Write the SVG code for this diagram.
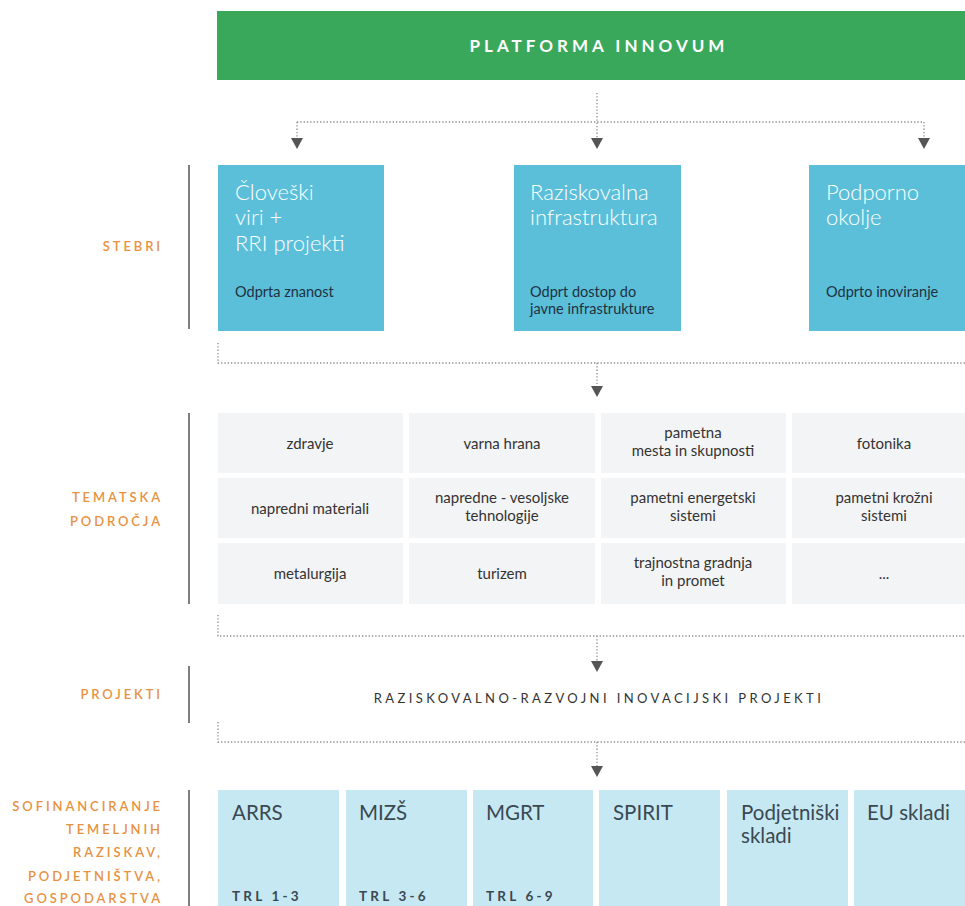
<svg xmlns="http://www.w3.org/2000/svg" width="965" height="906" viewBox="0 0 965 906">
<defs>
<style>
text{font-family:Lato,"Open Sans","Liberation Sans",sans-serif}
.lbl{fill:#e8913f;font-size:13px;letter-spacing:2.9px;text-anchor:end;font-weight:600}
.vline{stroke:#3a3a3a;stroke-width:1.3}
.dot{stroke:#8a8a8a;stroke-width:1.3;stroke-dasharray:1.3 2;fill:none}
.arr{fill:#555}
.pil{fill:#5bbfda}
.pt{fill:#fff;font-size:22px;font-weight:300}
.ps{fill:#1f3140;font-size:14.5px}
.cell{fill:#f3f4f6}
.ct{fill:#333;font-size:15px;text-anchor:middle}
.fb{fill:#c6e8f2}
.ft{fill:#3a4852;font-size:20.5px}
.trl{fill:#3a4852;font-size:13.5px;font-weight:700;letter-spacing:3.2px}
</style>
</defs>
<rect width="965" height="906" fill="#fff"/>

<g id="platforma">
<rect x="217" y="11" width="748" height="69" fill="#3aa85a"/>
<text x="599" y="52" fill="#fff" font-size="17" font-weight="700" letter-spacing="4" text-anchor="middle">PLATFORMA INNOVUM</text>
</g>

<g id="connectors">
<path class="dot" d="M597 93V138M297 122H924M297 122V138M924 122V138"/>
<polygon class="arr" points="291,138 303,138 297,149"/>
<polygon class="arr" points="591,138 603,138 597,149"/>
<polygon class="arr" points="918,138 930,138 924,149"/>
<path class="dot" d="M218 343V363H965M597 363V386"/>
<polygon class="arr" points="591,386 603,386 597,397"/>
<path class="dot" d="M218 615V636H965M597 636V661"/>
<polygon class="arr" points="591,661 603,661 597,672"/>
<path class="dot" d="M218 722V742H965M597 742V766"/>
<polygon class="arr" points="591,766 603,766 597,777"/>
</g>

<g id="row-labels">
<line class="vline" x1="189" y1="165" x2="189" y2="329"/>
<text class="lbl" x="163" y="251">STEBRI</text>
<line class="vline" x1="189" y1="413" x2="189" y2="604"/>
<text class="lbl" x="163" y="502">TEMATSKA</text>
<text class="lbl" x="163" y="526">PODROČJA</text>
<line class="vline" x1="189" y1="666" x2="189" y2="723"/>
<text class="lbl" x="163" y="699">PROJEKTI</text>
<line class="vline" x1="189" y1="790" x2="189" y2="906"/>
<text class="lbl" x="163" y="811">SOFINANCIRANJE</text>
<text class="lbl" x="163" y="834">TEMELJNIH</text>
<text class="lbl" x="163" y="857">RAZISKAV,</text>
<text class="lbl" x="163" y="881">PODJETNIŠTVA,</text>
<text class="lbl" x="163" y="903">GOSPODARSTVA</text>
</g>

<g id="steber-1">
<rect class="pil" x="218" y="165" width="166" height="166"/>
<text class="pt" x="235" y="200">Človeški</text>
<text class="pt" x="235" y="225">viri +</text>
<text class="pt" x="235" y="251">RRI projekti</text>
<text class="ps" x="235" y="297">Odprta znanost</text>
</g>
<g id="steber-2">
<rect class="pil" x="514" y="165" width="167" height="166"/>
<text class="pt" x="530" y="200">Raziskovalna</text>
<text class="pt" x="530" y="225">infrastruktura</text>
<text class="ps" x="530" y="297">Odprt dostop do</text>
<text class="ps" x="530" y="314">javne infrastrukture</text>
</g>
<g id="steber-3">
<rect class="pil" x="809" y="165" width="167" height="166"/>
<text class="pt" x="826" y="200">Podporno</text>
<text class="pt" x="826" y="225">okolje</text>
<text class="ps" x="826" y="297">Odprto inoviranje</text>
</g>

<g id="podrocje-zdravje"><rect class="cell" x="218" y="413" width="185" height="60"/><text class="ct" x="310" y="449">zdravje</text></g>
<g id="podrocje-hrana"><rect class="cell" x="409" y="413" width="186" height="60"/><text class="ct" x="502" y="449">varna hrana</text></g>
<g id="podrocje-mesta"><rect class="cell" x="601" y="413" width="185" height="60"/><text class="ct" x="693" y="438">pametna</text><text class="ct" x="693" y="456">mesta in skupnosti</text></g>
<g id="podrocje-fotonika"><rect class="cell" x="792" y="413" width="186" height="60"/><text class="ct" x="884" y="449">fotonika</text></g>

<g id="podrocje-materiali"><rect class="cell" x="218" y="478" width="185" height="60"/><text class="ct" x="310" y="514">napredni materiali</text></g>
<g id="podrocje-vesoljske"><rect class="cell" x="409" y="478" width="186" height="60"/><text class="ct" x="502" y="503">napredne - vesoljske</text><text class="ct" x="502" y="521">tehnologije</text></g>
<g id="podrocje-energetski"><rect class="cell" x="601" y="478" width="185" height="60"/><text class="ct" x="693" y="503">pametni energetski</text><text class="ct" x="693" y="521">sistemi</text></g>
<g id="podrocje-krozni"><rect class="cell" x="792" y="478" width="186" height="60"/><text class="ct" x="884" y="503">pametni krožni</text><text class="ct" x="884" y="521">sistemi</text></g>

<g id="podrocje-metalurgija"><rect class="cell" x="218" y="543" width="185" height="61"/><text class="ct" x="310" y="579">metalurgija</text></g>
<g id="podrocje-turizem"><rect class="cell" x="409" y="543" width="186" height="61"/><text class="ct" x="502" y="579">turizem</text></g>
<g id="podrocje-gradnja"><rect class="cell" x="601" y="543" width="185" height="61"/><text class="ct" x="693" y="568">trajnostna gradnja</text><text class="ct" x="693" y="586">in promet</text></g>
<g id="podrocje-vec"><rect class="cell" x="792" y="543" width="186" height="61"/><text class="ct" x="884" y="579">...</text></g>

<g id="projekti">
<text x="599" y="703" fill="#333" font-size="13" letter-spacing="3.4" text-anchor="middle">RAZISKOVALNO-RAZVOJNI INOVACIJSKI PROJEKTI</text>
</g>

<g id="sklad-arrs"><rect class="fb" x="218" y="790" width="121" height="120"/><text class="ft" x="232" y="820">ARRS</text><text class="trl" x="232" y="901">TRL 1-3</text></g>
<g id="sklad-mizs"><rect class="fb" x="346" y="790" width="121" height="120"/><text class="ft" x="359" y="820">MIZŠ</text><text class="trl" x="359" y="901">TRL 3-6</text></g>
<g id="sklad-mgrt"><rect class="fb" x="473" y="790" width="120" height="120"/><text class="ft" x="486" y="820">MGRT</text><text class="trl" x="486" y="901">TRL 6-9</text></g>
<g id="sklad-spirit"><rect class="fb" x="599" y="790" width="121" height="120"/><text class="ft" x="613" y="820">SPIRIT</text></g>
<g id="sklad-podjetniski"><rect class="fb" x="727" y="790" width="121" height="120"/><text class="ft" x="741" y="820">Podjetniški</text><text class="ft" x="741" y="843">skladi</text></g>
<g id="sklad-eu"><rect class="fb" x="854" y="790" width="121" height="120"/><text class="ft" x="867" y="820">EU skladi</text></g>
</svg>
